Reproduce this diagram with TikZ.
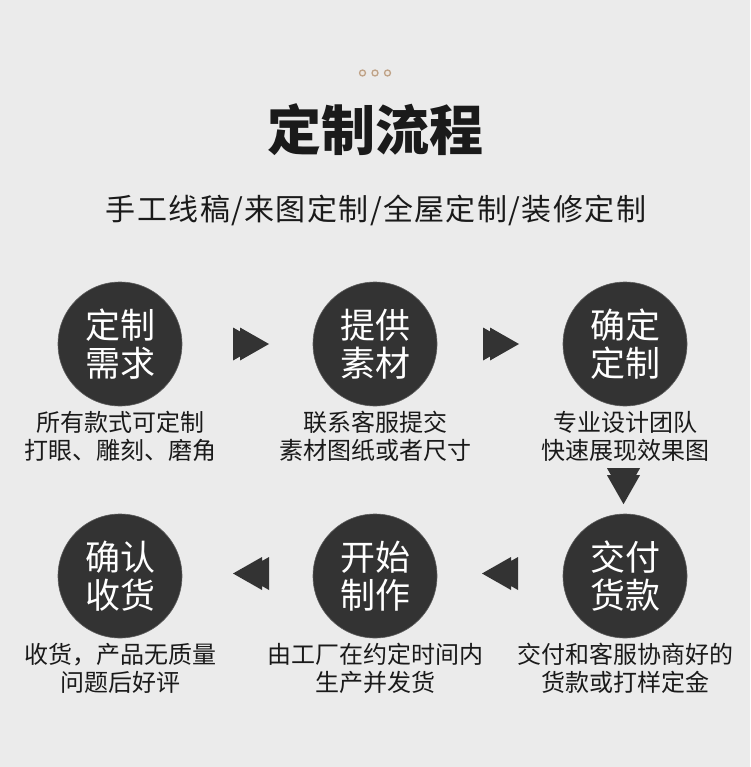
\documentclass[tikz,border=0pt]{standalone}
\usepackage{fontspec}
\setmainfont{Noto Sans CJK SC}
\newfontfamily\cjkspaced[LetterSpace=4.6]{Noto Sans CJK SC}
\usetikzlibrary{calc}
\definecolor{bg}{HTML}{EBEBEB}
\definecolor{dark}{HTML}{333333}
\definecolor{ink}{HTML}{1A1A1A}
\definecolor{dotring}{HTML}{BFA388}
\definecolor{dotin}{HTML}{EDE7E1}
\tikzset{
  stepcircle/.style={circle, fill=dark, draw=dark!80!white, line width=0.6pt, minimum size=124pt, inner sep=0pt,
    text=white, align=center, font=\fontsize{35}{38}\selectfont},
  desc/.style={align=center, text=ink, inner sep=0pt, font=\fontsize{24}{28}\selectfont},
  deco/.style={circle, draw=dotring, fill=dotin, line width=1.3pt, minimum size=6pt, inner sep=0pt},
  ffarrow/.pic={\fill[dark] (-18,-16.5) -- (-11,-12.5) -- (-11,-16.5) -- (18,0) -- (-11,16.5) -- (-11,12.5) -- (-18,16.5) -- cycle;}
}
\begin{document}
\begin{tikzpicture}[x=1pt,y=-1pt]
\fill[bg] (0,0) rectangle (750,767);
\useasboundingbox (0,0) rectangle (750,767);
% decorative dots
\node[deco] (dot1) at (362.5,73) {};
\node[deco] (dot2) at (375,73) {};
\node[deco] (dot3) at (387.5,73) {};
% title
\node[text=ink, inner sep=0pt, font=\fontsize{54}{58}\selectfont\bfseries] (title) at (375,130) {定制流程};
\node[text=ink, inner sep=0pt, font=\cjkspaced\fontsize{30}{34}\selectfont] (sub) at (376,210) {手工线稿/来图定制/全屋定制/装修定制};
% circles
\node[stepcircle] (c1) at (120,344) {定制\\需求};
\node[stepcircle] (c2) at (375,344) {提供\\素材};
\node[stepcircle] (c3) at (625,344) {确定\\定制};
\node[stepcircle] (c4) at (120,576) {确认\\收货};
\node[stepcircle] (c5) at (375,576) {开始\\制作};
\node[stepcircle] (c6) at (625,576) {交付\\货款};
% descriptions
\node[desc] (d1) at ($(c1)+(0,92)$) {所有款式可定制\\打眼、雕刻、磨角};
\node[desc] (d2) at ($(c2)+(0,92)$) {联系客服提交\\素材图纸或者尺寸};
\node[desc] (d3) at ($(c3)+(0,92)$) {专业设计团队\\快速展现效果图};
\node[desc] (d4) at ($(c4)+(0,92)$) {收货，产品无质量\\问题后好评};
\node[desc] (d5) at ($(c5)+(0,92)$) {由工厂在约定时间内\\生产并发货};
\node[desc] (d6) at ($(c6)+(0,92)$) {交付和客服协商好的\\货款或打样定金};
% arrows
\pic at ($(c1)!0.5!(c2)+(3.5,0)$) {ffarrow};
\pic at ($(c2)!0.5!(c3)+(1,0)$) {ffarrow};
\pic[rotate=-90] at ($(c6.north)+(-1.5,-27.5)$) {ffarrow};
\pic[rotate=180] at ($(c6)!0.5!(c5)+(0,-2.5)$) {ffarrow};
\pic[rotate=180] at ($(c5)!0.5!(c4)+(3.5,-2.5)$) {ffarrow};
\end{tikzpicture}
\end{document}
